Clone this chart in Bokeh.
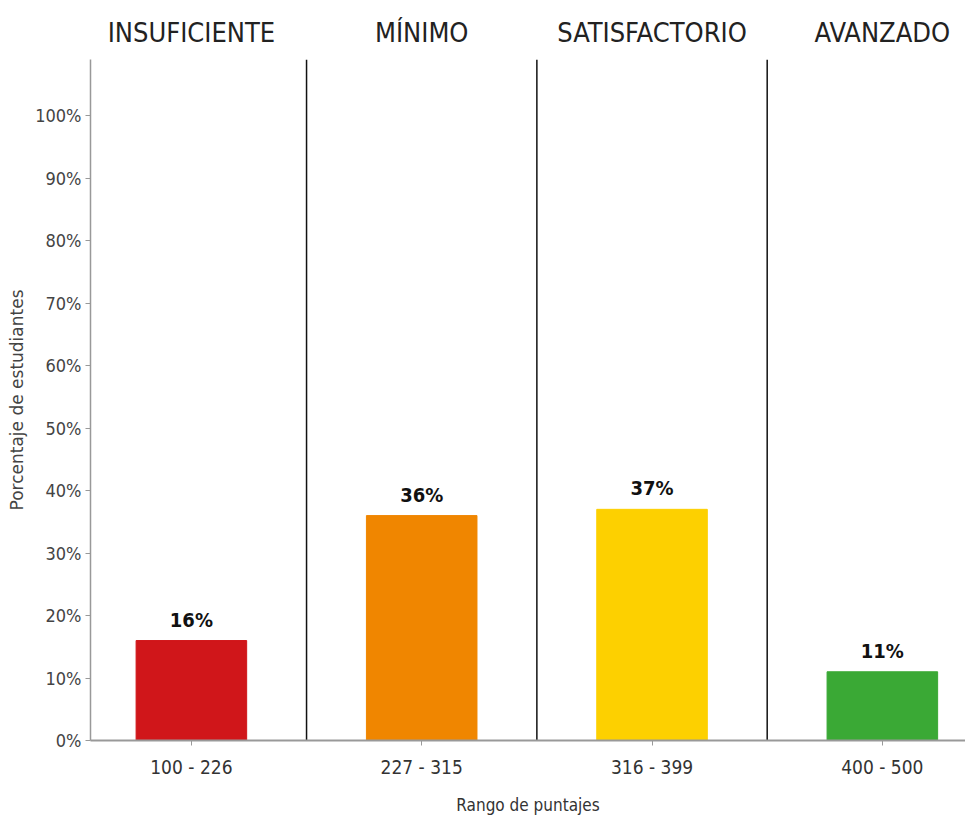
from bokeh.plotting import figure
from bokeh.models import Range1d, LinearAxis, FixedTicker, ColumnDataSource
from bokeh.core.properties import value
from bokeh.embed import file_html
from bokeh.resources import INLINE

levels = ["INSUFICIENTE", "MÍNIMO", "SATISFACTORIO", "AVANZADO"]
ranges = ["100 - 226", "227 - 315", "316 - 399", "400 - 500"]
percent = [16, 36, 37, 11]
colors = ["#D0161A", "#F08600", "#FDD000", "#3AA935"]
y_ticks = [0, 10, 20, 30, 40, 50, 60, 70, 80, 90, 100]

FONT = "DejaVu Sans Condensed"

centers = [i + 0.5 for i in range(len(levels))]
dividers = [i + 1 for i in range(len(levels) - 1)]
Y_MAX = 109

p = figure(width=965, height=817, output_backend="svg", toolbar_location=None,
           x_range=Range1d(0.062, 3.861), y_range=Range1d(0, Y_MAX),
           min_border_left=90, min_border_right=0, min_border_top=59, min_border_bottom=60,
           x_axis_location="below")
p.outline_line_color = None
p.grid.visible = False
p.background_fill_color = "white"

src = ColumnDataSource(dict(x=centers, top=percent, color=colors,
                            label=[f"{v}%" for v in percent]))
p.vbar(x="x", top="top", width=0.48, bottom=0, color="color", source=src)
p.text(x="x", y="top", text="label", source=src, text_align="center",
       text_baseline="bottom", y_offset=-9, text_font=value(FONT),
       text_font_size="20px", text_font_style="bold", text_color="#111111")
p.segment(x0=dividers, y0=[0] * len(dividers), x1=dividers, y1=[Y_MAX] * len(dividers),
          line_color="#111111", line_width=1.5)

# x axis
xa = p.xaxis[0]
xa.ticker = FixedTicker(ticks=centers)
xa.major_label_overrides = {c: r for c, r in zip(centers, ranges)}
xa.axis_line_color = "#999999"
xa.axis_line_width = 2
xa.major_tick_line_color = "#999999"
xa.major_tick_in = 0
xa.major_tick_out = 5
xa.minor_tick_line_color = None
xa.major_label_text_font = FONT
xa.major_label_text_font_size = "19px"
xa.major_label_text_color = "#333333"
xa.major_label_standoff = 10
xa.axis_label = "Rango de puntajes"
xa.axis_label_text_font = FONT
xa.axis_label_text_font_size = "17px"
xa.axis_label_text_font_style = "normal"
xa.axis_label_text_color = "#333333"
xa.axis_label_standoff = 14

# y axis
ya = p.yaxis[0]
ya.ticker = FixedTicker(ticks=y_ticks)
ya.major_label_overrides = {t: f"{t}%" for t in y_ticks}
ya.axis_line_color = "#999999"
ya.axis_line_width = 1.5
ya.major_tick_line_color = "#999999"
ya.major_tick_in = 0
ya.major_tick_out = 5
ya.minor_tick_line_color = None
ya.major_label_text_font = FONT
ya.major_label_text_font_size = "18px"
ya.major_label_text_color = "#444444"
ya.major_label_standoff = 4
ya.axis_label = "Porcentaje de estudiantes"
ya.axis_label_text_font = "DejaVu Sans"
ya.axis_label_text_font_size = "17px"
ya.axis_label_text_font_style = "normal"
ya.axis_label_text_color = "#444444"
ya.axis_label_standoff = 5

# top axis with level names
ta = LinearAxis(ticker=FixedTicker(ticks=centers))
ta.major_label_overrides = {c: l for c, l in zip(centers, levels)}
ta.axis_line_color = None
ta.major_tick_line_color = None
ta.minor_tick_line_color = None
ta.major_label_text_font = FONT
ta.major_label_text_font_size = "27px"
ta.major_label_text_color = "#222222"
ta.major_label_standoff = 6
p.add_layout(ta, "above")

open("out.html", "w").write(file_html(p, INLINE))
